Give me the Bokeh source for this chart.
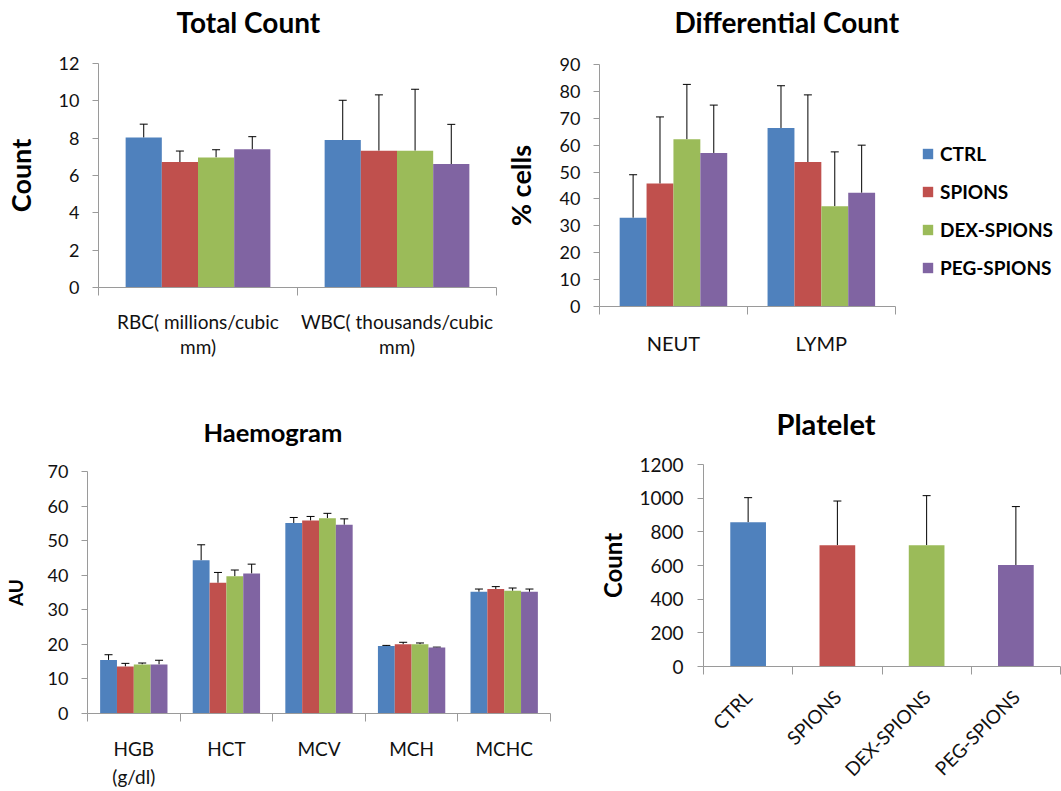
import math
from bokeh.plotting import figure
from bokeh.layouts import column, row
from bokeh.models import (ColumnDataSource, Range1d, LinearAxis,
                          FixedTicker, Whisker, TeeHead, Legend, LegendItem)
from bokeh.embed import file_html
from bokeh.resources import INLINE

# ---------------- data ----------------
groups = ["CTRL", "SPIONS", "DEX-SPIONS", "PEG-SPIONS"]
colors = ["#4F81BD", "#C0504D", "#9BBB59", "#8064A2"]

total_cats = ["RBC( millions/cubic\nmm)", "WBC( thousands/cubic\nmm)"]
total_mean = {"CTRL": [8.03, 7.90], "SPIONS": [6.72, 7.33], "DEX-SPIONS": [6.97, 7.33], "PEG-SPIONS": [7.40, 6.61]}
total_err = {"CTRL": [0.72, 2.13], "SPIONS": [0.59, 2.99], "DEX-SPIONS": [0.41, 3.29], "PEG-SPIONS": [0.68, 2.13]}
total_ticks = [0, 2, 4, 6, 8, 10, 12]

diff_cats = ["NEUT", "LYMP"]
diff_mean = {"CTRL": [33.0, 66.4], "SPIONS": [45.7, 53.7], "DEX-SPIONS": [62.2, 37.3], "PEG-SPIONS": [57.1, 42.3]}
diff_err = {"CTRL": [16.0, 15.7], "SPIONS": [24.8, 25.0], "DEX-SPIONS": [20.4, 20.2], "PEG-SPIONS": [17.8, 17.7]}
diff_ticks = [0, 10, 20, 30, 40, 50, 60, 70, 80, 90]

haem_cats = ["HGB\n(g/dl)", "HCT", "MCV", "MCH", "MCHC"]
haem_mean = {"CTRL": [15.5, 44.3, 55.1, 19.5, 35.2], "SPIONS": [13.6, 37.8, 55.8, 20.0, 36.0],
             "DEX-SPIONS": [14.2, 39.7, 56.5, 20.0, 35.5], "PEG-SPIONS": [14.2, 40.5, 54.6, 19.1, 35.2]}
haem_err = {"CTRL": [1.5, 4.5, 1.6, 0.2, 0.8], "SPIONS": [0.9, 3.0, 1.2, 0.6, 0.7],
            "DEX-SPIONS": [0.4, 1.8, 1.4, 0.4, 0.8], "PEG-SPIONS": [1.2, 2.7, 1.7, 0.1, 0.8]}
haem_ticks = [0, 10, 20, 30, 40, 50, 60, 70]

plat_mean = [857, 721, 721, 603]
plat_err = [146, 262, 294, 347]
plat_ticks = [0, 200, 400, 600, 800, 1000, 1200]

FONT = "Lato"
AXIS_GRAY = "#9A9A9A"
TXT = "#111111"


def base_fig(n, xmax, ymax, width, height, bl, br, bt, bb, title, tsize, toffset, spacer):
    p = figure(x_range=Range1d(0, xmax), y_range=Range1d(0, ymax), width=width, height=height,
               output_backend="svg", toolbar_location=None, x_axis_location=None,
               min_border_left=bl, min_border_right=br, min_border_top=bt, min_border_bottom=bb,
               title=title)
    p.frame_align = False
    p.outline_line_color = None
    p.grid.grid_line_color = None
    p.background_fill_color = "white"
    p.border_fill_color = "white"
    p.title.text_font = FONT
    p.title.text_font_size = f"{tsize}px"
    p.title.text_font_style = "bold"
    p.title.text_color = "black"
    p.title.align = "left"
    p.title.offset = toffset
    p.title.standoff = 0
    # invisible spacer axis between the frame and the title
    sp = LinearAxis(ticker=FixedTicker(ticks=[0.5]), major_label_overrides={0.5: ""},
                    axis_line_color=None, major_tick_line_color=None, minor_tick_line_color=None,
                    major_tick_out=spacer, major_tick_in=0, minor_tick_out=0, minor_tick_in=0,
                    major_label_standoff=0, major_label_text_font_size="0px")
    p.add_layout(sp, "above")
    return p


def style_y(p, ticks, label, lsize, lstandoff, tick_size=18, tstandoff=13):
    ax = p.yaxis[0]
    ax.ticker = FixedTicker(ticks=ticks)
    ax.axis_line_color = AXIS_GRAY
    ax.major_tick_line_color = AXIS_GRAY
    ax.major_tick_out = 6
    ax.major_tick_in = 0
    ax.minor_tick_line_color = None
    ax.major_label_text_font = FONT
    ax.major_label_text_font_size = f"{tick_size}px"
    ax.major_label_text_color = TXT
    ax.major_label_standoff = tstandoff
    ax.axis_label = label
    ax.axis_label_text_font = FONT
    ax.axis_label_text_font_size = f"{lsize}px"
    ax.axis_label_text_font_style = "bold"
    ax.axis_label_text_color = "black"
    ax.axis_label_standoff = lstandoff


def add_x(p, cats, size, standoff, line_height=1.2, orientation="horizontal"):
    n = len(cats)
    centers = [i + 0.5 for i in range(n)]
    ax = LinearAxis(ticker=FixedTicker(ticks=centers, minor_ticks=list(range(n + 1))),
                    major_label_overrides={c: lab for c, lab in zip(centers, cats)},
                    bounds=(0, n))
    ax.axis_line_color = AXIS_GRAY
    ax.major_tick_line_color = None
    ax.major_tick_out = 0
    ax.major_tick_in = 0
    ax.minor_tick_line_color = AXIS_GRAY
    ax.minor_tick_out = 8
    ax.minor_tick_in = 0
    ax.major_label_text_font = FONT
    ax.major_label_text_font_size = f"{size}px"
    ax.major_label_text_color = TXT
    ax.major_label_text_line_height = line_height
    ax.major_label_standoff = standoff
    ax.major_label_orientation = orientation
    p.add_layout(ax, "below")
    return ax


def grouped_bars(p, cats, means, errs):
    bw = 1.0 / 5.5
    rends = []
    for j, g in enumerate(groups):
        off = (j - 1.5) * bw
        xs = [i + 0.5 + off for i in range(len(cats))]
        src = ColumnDataSource(dict(x=xs, top=means[g],
                                    up=[m + e for m, e in zip(means[g], errs[g])]))
        r = p.vbar(x="x", top="top", width=bw, source=src,
                   fill_color=colors[j], line_color=None)
        rends.append(r)
        w = Whisker(source=src, base="x", lower="top", upper="up",
                    dimension="height", line_color="black", line_width=1,
                    upper_head=TeeHead(size=8, line_color="black", line_width=1), lower_head=None)
        p.add_layout(w)
    return rends


# ---------------- Total Count ----------------
p1 = base_fig(2, 2, 12, 500, 390, 93, 4, 63, 103, "Total Count", 28, 78, 25)
grouped_bars(p1, total_cats, total_mean, total_err)
style_y(p1, total_ticks, "Count", 27, 19)
add_x(p1, total_cats, 19, 14, 1.1)

# ---------------- Differential Count ----------------
# frame extended to the right edge; room right of the axis holds the legend
LEGEND_ROOM = 1.124
p2 = base_fig(2, 2 + LEGEND_ROOM, 90, 561, 390, 94, 0, 64, 84, "Differential Count", 28, 75, 26)
rends = grouped_bars(p2, diff_cats, diff_mean, diff_err)
style_y(p2, diff_ticks, "% cells", 27, 20)
add_x(p2, diff_cats, 20, 16)
legend = Legend(items=[LegendItem(label=g, renderers=[r]) for g, r in zip(groups, rends)],
                location=(322, 27))
legend.glyph_width = 13
legend.glyph_height = 13
legend.label_standoff = 6
legend.label_height = 24
legend.spacing = 14
legend.padding = 0
legend.margin = 0
legend.border_line_color = None
legend.background_fill_alpha = 0
legend.label_text_font = FONT
legend.label_text_font_size = "19px"
legend.label_text_font_style = "bold"
legend.label_text_color = "black"
p2.add_layout(legend, "center")

# ---------------- Haemogram ----------------
p3 = base_fig(5, 5, 70, 590, 401, 86, 40, 81, 77, "Haemogram", 25.5, 116, 25)
grouped_bars(p3, haem_cats, haem_mean, haem_err)
style_y(p3, haem_ticks, "AU", 19, 18)
add_x(p3, haem_cats, 19, 15, 1.25)

# ---------------- Platelet ----------------
p4 = base_fig(4, 4, 1200, 471, 401, 113, 1, 74, 124, "Platelet", 29, 73, 24)
plat_x = [i + 0.5 for i in range(len(groups))]
src4 = ColumnDataSource(dict(x=plat_x, top=plat_mean,
                             up=[m + e for m, e in zip(plat_mean, plat_err)], color=colors))
p4.vbar(x="x", top="top", width=0.4, source=src4, fill_color="color", line_color=None)
p4.add_layout(Whisker(source=src4, base="x", lower="top", upper="up", dimension="height",
                      line_color="black", line_width=1,
                      upper_head=TeeHead(size=8, line_color="black", line_width=1), lower_head=None))
style_y(p4, plat_ticks, "Count", 24, 9, tick_size=19, tstandoff=14)
add_x(p4, groups, 19, 19, 1.2, math.pi / 4)

layout = column(row(p1, p2), row(p3, p4))
open("out.html", "w").write(file_html(layout, INLINE))
